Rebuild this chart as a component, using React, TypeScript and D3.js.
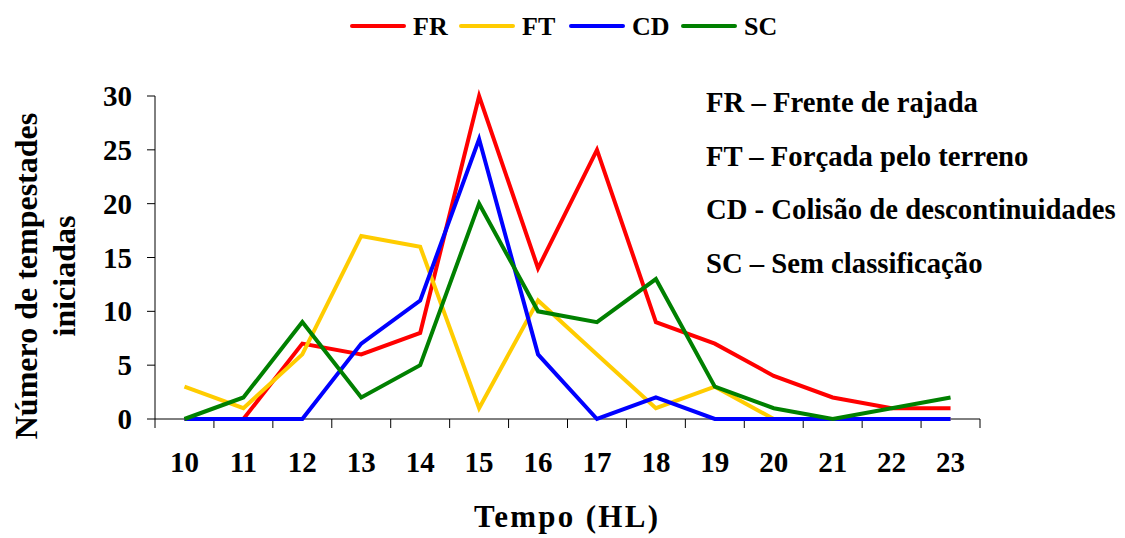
import React from "react";
import * as d3 from "d3";

const hours = [10, 11, 12, 13, 14, 15, 16, 17, 18, 19, 20, 21, 22, 23];
const FR = [0, 0, 7, 6, 8, 30, 14, 25, 9, 7, 4, 2, 1, 1];
const FT = [3, 1, 6, 17, 16, 1, 11, 6, 1, 3, 0, 0, 0, 0];
const CD = [0, 0, 0, 7, 11, 26, 6, 0, 2, 0, 0, 0, 0, 0];
const SC = [0, 2, 9, 2, 5, 20, 10, 9, 13, 3, 1, 0, 1, 2];
const seriesNames = ["FR", "FT", "CD", "SC"];
const seriesColors = ["#ff0000", "#ffcc00", "#0000ff", "#008000"];
const yTicks = [0, 5, 10, 15, 20, 25, 30];
const notes = [
  "FR – Frente de rajada",
  "FT – Forçada pelo terreno",
  "CD - Colisão de descontinuidades",
  "SC – Sem classificação",
];

export default function App() {
  const W = 1125, H = 538;
  const left = 155, right = 980, top = 96, bottom = 419;
  const x = d3.scaleBand<number>().domain(hours).range([left, right]);
  const y = d3.scaleLinear().domain([0, 30]).range([bottom, top]);
  const data = [FR, FT, CD, SC];
  const line = d3
    .line<number>()
    .x((_, i) => (x(hours[i]) as number) + x.bandwidth() / 2)
    .y((v) => y(v));
  const font = '"Liberation Serif", "Times New Roman", serif';
  const legendX = [352, 461, 571, 683];
  const bandEdges = hours.map((h) => x(h) as number).concat([right]);
  return (
    <svg width={W} height={H} style={{ position: "absolute", left: 0, top: 0, background: "#fff", fontFamily: font, fontWeight: "bold" }}>
      {/* legend */}
      {seriesNames.map((n, i) => (
        <g key={n}>
          <line x1={legendX[i]} x2={legendX[i] + 52} y1={26} y2={26} stroke={seriesColors[i]} strokeWidth={4} strokeLinecap="round" />
          <text x={legendX[i] + 61} y={35} fontSize={26}>{n}</text>
        </g>
      ))}
      {/* axes */}
      <line x1={left} x2={left} y1={top} y2={bottom} stroke="#000" strokeWidth={1} />
      <line x1={left} x2={right} y1={bottom} y2={bottom} stroke="#000" strokeWidth={1} />
      {yTicks.map((t) => (
        <g key={t}>
          <line x1={left - 8} x2={left} y1={y(t)} y2={y(t)} stroke="#000" />
          <text x={132} y={y(t) + 10} fontSize={29} textAnchor="end">{t}</text>
        </g>
      ))}
      {bandEdges.map((e, i) => (
        <line key={i} x1={e} x2={e} y1={bottom} y2={bottom + 9} stroke="#000" />
      ))}
      {hours.map((h) => (
        <text key={h} x={(x(h) as number) + x.bandwidth() / 2} y={472} fontSize={29} textAnchor="middle">{h}</text>
      ))}
      <text x={566} y={527} fontSize={31} textAnchor="middle" textLength={184} lengthAdjust="spacing">Tempo (HL)</text>
      <text transform="translate(37,276) rotate(-90)" fontSize={32} textAnchor="middle">Número de tempestades</text>
      <text transform="translate(75,276) rotate(-90)" fontSize={32} textAnchor="middle">iniciadas</text>
      {/* lines */}
      {data.map((d, i) => (
        <path key={i} d={line(d) as string} fill="none" stroke={seriesColors[i]} strokeWidth={4} strokeLinejoin="miter" />
      ))}
      {/* notes */}
      {notes.map((n, i) => (
        <text key={n} x={706} y={112 + i * 53.7} fontSize={28.7}>{n}</text>
      ))}
    </svg>
  );
}
